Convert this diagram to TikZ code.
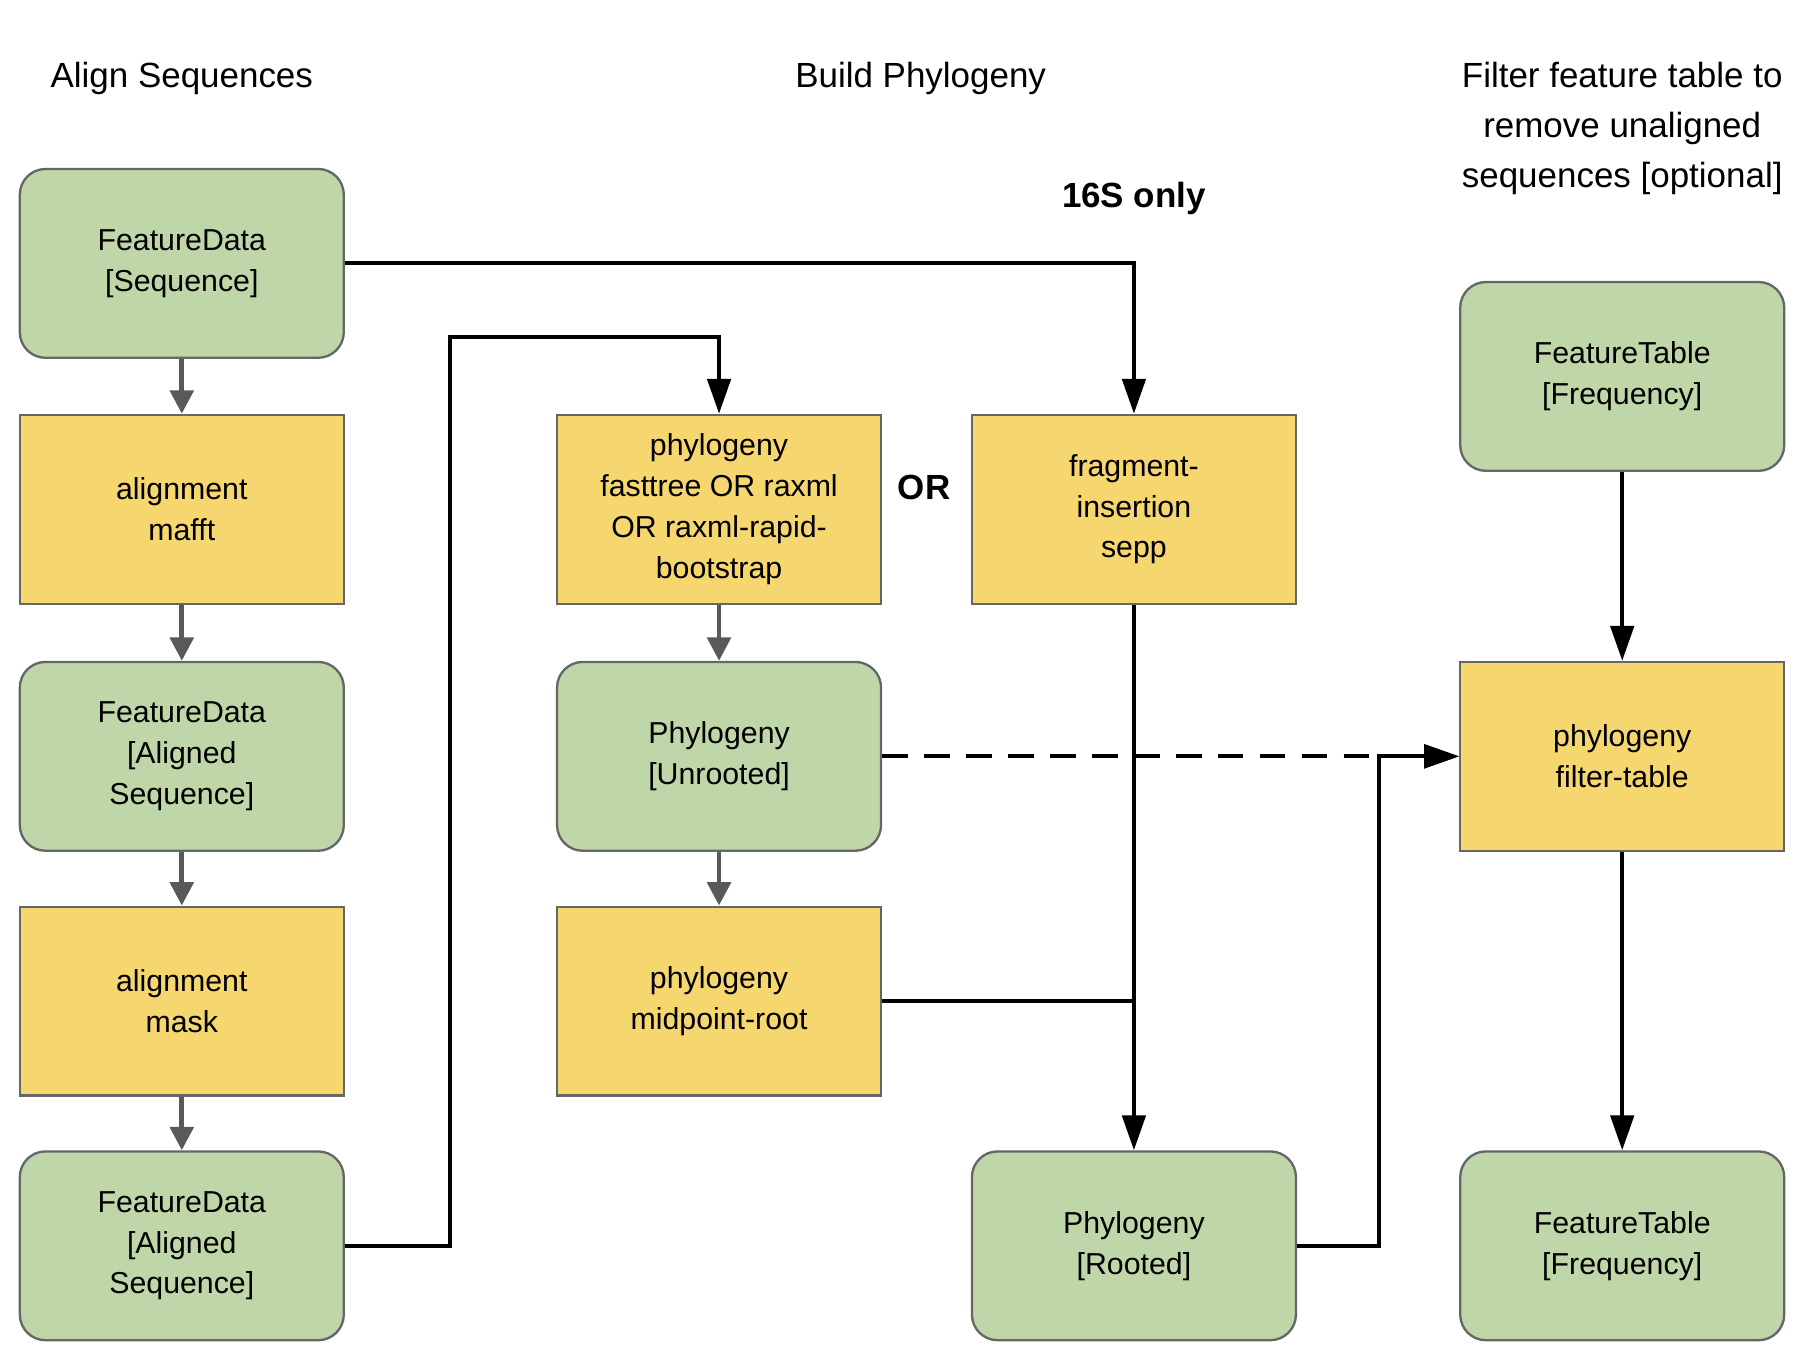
\documentclass[tikz,border=0pt]{standalone}
\usepackage{fontspec}
\setmainfont{Liberation Sans}
\usetikzlibrary{arrows.meta}
\begin{document}
\begin{tikzpicture}[x=1pt,y=-1pt,
  base/.style={draw=black!60,line width=2pt,minimum width=278pt,minimum height=162pt,align=center,font=\fontsize{26}{35}\selectfont,inner sep=0pt},
  data/.style={base,fill={rgb,255:red,191;green,215;blue,168},rounded corners=22pt},
  act/.style={base,fill={rgb,255:red,245;green,214;blue,111}},
  garr/.style={draw=black!65,line width=4pt,-{Triangle[length=20pt,width=20pt]}},
  barr/.style={draw=black,line width=3.5pt,-{Triangle[length=30pt,width=20pt]}},
  title/.style={font=\fontsize{30}{43}\selectfont,align=center}]
\useasboundingbox (0,0) rectangle (1560,1157);
\node[title] (t1) at (156,67) {Align Sequences};
\node[title] (t2) at (790,67) {Build Phylogeny};
\node[title] (t3) at (1392,110) {Filter feature table to\\remove unaligned\\sequences [optional]};
\node[title,font=\fontsize{30}{43}\selectfont\bfseries] (s16) at (973,170) {16S only};
\node[title,font=\fontsize{30}{43}\selectfont\bfseries] (or) at (793,418) {OR};
\node[data] (a) at (156,226) {FeatureData\\{[Sequence]}};
\node[act] (b) at (156,437) {alignment\\mafft};
\node[data] (c) at (156,649) {FeatureData\\{[Aligned}\\Sequence]};
\node[act] (d) at (156,859) {alignment\\mask};
\node[data] (e) at (156,1069) {FeatureData\\{[Aligned}\\Sequence]};
\node[act] (b2) at (617,437) {phylogeny\\fasttree OR raxml\\OR raxml-rapid-\\bootstrap};
\node[data] (c2) at (617,649) {Phylogeny\\{[Unrooted]}};
\node[act] (d2) at (617,859) {phylogeny\\midpoint-root};
\node[act] (fr) at (973,437) {fragment-\\insertion\\sepp};
\node[data] (ro) at (973,1069) {Phylogeny\\{[Rooted]}};
\node[data] (ft) at (1392,323) {FeatureTable\\{[Frequency]}};
\node[act] (flt) at (1392,649) {phylogeny\\filter-table};
\node[data] (ft2) at (1392,1069) {FeatureTable\\{[Frequency]}};
\draw[garr] (a) -- (b);
\draw[garr] (b) -- (c);
\draw[garr] (c) -- (d);
\draw[garr] (d) -- (e);
\draw[garr] (b2) -- (c2);
\draw[garr] (c2) -- (d2);
\draw[barr] (a.east) -| (fr.north);
\draw[barr] (e.east) -- (386,1069) |- (617,289) -- (b2.north);
\draw[barr] (fr.south) -- (ro.north);
\draw[line width=3.5pt] (d2.east) -- (973,859);
\draw[barr,dash pattern=on 22pt off 14pt] (c2.east) -- (flt.west);
\draw[barr] (ro.east) -- (1183,1069) -- (1183,649) -- (flt.west);
\draw[barr] (ft) -- (flt);
\draw[barr] (flt) -- (ft2);
\end{tikzpicture}
\end{document}
